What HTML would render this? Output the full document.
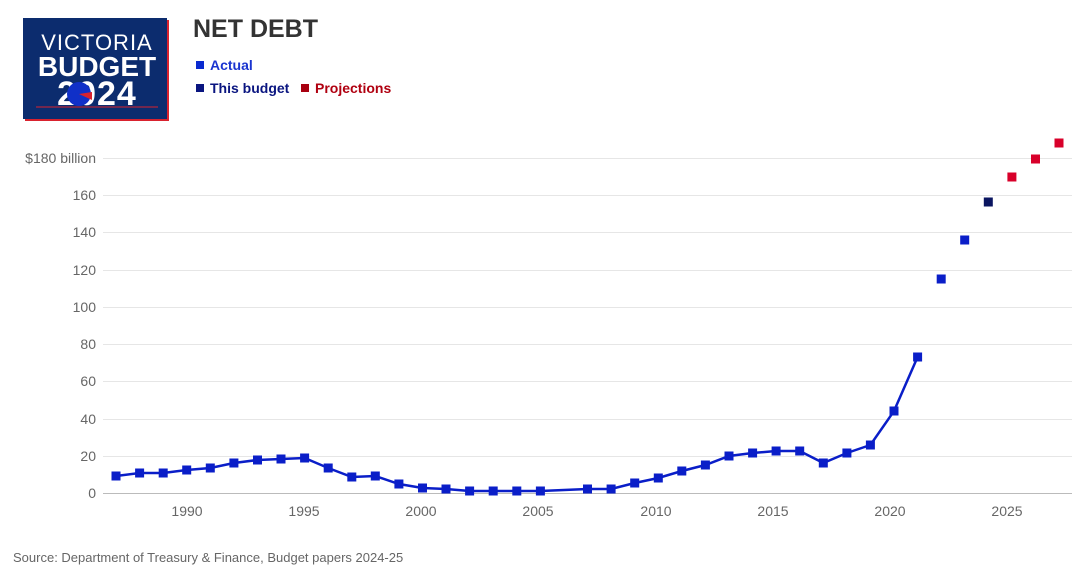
<!DOCTYPE html>
<html><head><meta charset="utf-8"><style>
body{margin:0;background:#fff;font-family:"Liberation Sans",sans-serif;}
</style></head><body>
<svg width="1080" height="574" xmlns="http://www.w3.org/2000/svg" style="display:block">
<rect x="25" y="20" width="144" height="101" fill="#d9222e"/>
<rect x="23" y="18" width="144" height="101" fill="#0c2c6e"/>
<text x="97" y="50" text-anchor="middle" font-size="22" fill="#fff" letter-spacing="1">VICTORIA</text>
<text x="97" y="76" text-anchor="middle" font-size="28" font-weight="bold" fill="#fff">BUDGET</text>
<text x="97" y="105" text-anchor="middle" font-size="34" font-weight="bold" fill="#fff" letter-spacing="1">2024</text>
<circle cx="79" cy="94" r="12" fill="#1030c8"/>
<path d="M79 94 L92 92 L92 100 Z" fill="#d9222e"/>
<line x1="36" y1="107" x2="158" y2="107" stroke="#d9222e" stroke-width="1"/>
<text x="193" y="37" font-size="25" font-weight="bold" fill="#333">NET DEBT</text>
<rect x="196" y="61" width="8" height="8" fill="#0a2ad0"/>
<text x="210" y="70" font-size="14" font-weight="bold" fill="#1a34d0">Actual</text>
<rect x="196" y="84" width="8" height="8" fill="#0a1580"/>
<text x="210" y="93" font-size="14" font-weight="bold" fill="#0a1580">This budget</text>
<rect x="301" y="84" width="8" height="8" fill="#a80010"/>
<text x="315" y="93" font-size="14" font-weight="bold" fill="#b00010">Projections</text>
<g stroke="#e6e6e6" stroke-width="1">
<line x1="103" x2="1072" y1="158.5" y2="158.5"/><line x1="103" x2="1072" y1="195.5" y2="195.5"/>
<line x1="103" x2="1072" y1="232.5" y2="232.5"/><line x1="103" x2="1072" y1="270.5" y2="270.5"/>
<line x1="103" x2="1072" y1="307.5" y2="307.5"/><line x1="103" x2="1072" y1="344.5" y2="344.5"/>
<line x1="103" x2="1072" y1="381.5" y2="381.5"/><line x1="103" x2="1072" y1="419.5" y2="419.5"/>
<line x1="103" x2="1072" y1="456.5" y2="456.5"/>
</g>
<line x1="103" x2="1072" y1="493.5" y2="493.5" stroke="#bbb"/>
<g font-size="14" fill="#666" text-anchor="end">
<text x="96" y="163">$180 billion</text><text x="96" y="200">160</text><text x="96" y="237">140</text>
<text x="96" y="275">120</text><text x="96" y="312">100</text><text x="96" y="349">80</text>
<text x="96" y="386">60</text><text x="96" y="424">40</text><text x="96" y="461">20</text><text x="96" y="498">0</text>
</g>
<g font-size="14" fill="#666" text-anchor="middle">
<text x="187" y="516">1990</text><text x="304" y="516">1995</text><text x="421" y="516">2000</text>
<text x="538" y="516">2005</text><text x="656" y="516">2010</text><text x="773" y="516">2015</text>
<text x="890" y="516">2020</text><text x="1007" y="516">2025</text>
</g>
<polyline fill="none" stroke="#0a1ec8" stroke-width="2.5" points="116,476 139.6,473 163.2,473 186.7,470 210.3,468 233.9,463 257.5,460 281,459 304.6,458 328.2,468 351.8,477 375.3,476 398.9,484 422.5,488 446,489 469.6,491 493.2,491 516.8,491 540.4,491 587.5,489 611.1,489 634.7,483 658.3,478 681.8,471 705.4,465 729,456 752.6,453 776.1,451 799.7,451 823.3,463 846.9,453 870.4,445 894,411 917.6,357"/>
<g fill="#0a1ec8" transform="translate(-4.5,-4.5)">
<rect x="116" y="476" width="9" height="9"/><rect x="139.6" y="473" width="9" height="9"/><rect x="163.2" y="473" width="9" height="9"/><rect x="186.7" y="470" width="9" height="9"/><rect x="210.3" y="468" width="9" height="9"/><rect x="233.9" y="463" width="9" height="9"/><rect x="257.5" y="460" width="9" height="9"/><rect x="281" y="459" width="9" height="9"/><rect x="304.6" y="458" width="9" height="9"/><rect x="328.2" y="468" width="9" height="9"/><rect x="351.8" y="477" width="9" height="9"/><rect x="375.3" y="476" width="9" height="9"/><rect x="398.9" y="484" width="9" height="9"/><rect x="422.5" y="488" width="9" height="9"/><rect x="446" y="489" width="9" height="9"/><rect x="469.6" y="491" width="9" height="9"/><rect x="493.2" y="491" width="9" height="9"/><rect x="516.8" y="491" width="9" height="9"/><rect x="540.4" y="491" width="9" height="9"/><rect x="587.5" y="489" width="9" height="9"/><rect x="611.1" y="489" width="9" height="9"/><rect x="634.7" y="483" width="9" height="9"/><rect x="658.3" y="478" width="9" height="9"/><rect x="681.8" y="471" width="9" height="9"/><rect x="705.4" y="465" width="9" height="9"/><rect x="729" y="456" width="9" height="9"/><rect x="752.6" y="453" width="9" height="9"/><rect x="776.1" y="451" width="9" height="9"/><rect x="799.7" y="451" width="9" height="9"/><rect x="823.3" y="463" width="9" height="9"/><rect x="846.9" y="453" width="9" height="9"/><rect x="870.4" y="445" width="9" height="9"/><rect x="894" y="411" width="9" height="9"/><rect x="917.6" y="357" width="9" height="9"/>
<rect x="941.2" y="279" width="9" height="9"/><rect x="964.7" y="240" width="9" height="9"/>
<rect x="988.3" y="202" width="9" height="9" fill="#0a1560"/>
<rect x="1011.9" y="177" width="9" height="9" fill="#d8002a"/><rect x="1035.5" y="159" width="9" height="9" fill="#d8002a"/><rect x="1059" y="143" width="9" height="9" fill="#d8002a"/>
</g>
<text x="13" y="562" font-size="13" fill="#666">Source: Department of Treasury &amp; Finance, Budget papers 2024-25</text>
</svg>
</body></html>
